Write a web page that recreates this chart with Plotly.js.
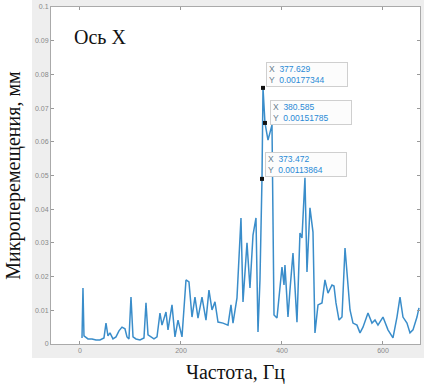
<!DOCTYPE html>
<html>
<head>
<meta charset="utf-8">
<script src="https://cdn.plot.ly/plotly-3.0.1.min.js"></script>
<style>html,body{margin:0;padding:0;background:#fff;}#chart{width:424px;height:385px;}</style>
</head>
<body>
<div id="chart"></div>
<script>
// Frequency (Hz)
var freq = [4.0, 5.9, 7.9, 15.8, 23.8, 31.7, 39.6, 47.5, 51.5, 55.4, 59.4, 65.3, 71.3, 77.2, 83.2, 89.1, 93.1, 97.0, 101.0, 105.0,
  110.9, 118.8, 126.7, 130.7, 134.7, 140.6, 146.5, 152.5, 158.4, 162.4, 170.3, 174.3, 182.2, 188.1, 194.1, 202.0, 209.9, 215.8, 221.8, 227.7,
  233.7, 241.6, 249.5, 255.4, 261.4, 267.3, 273.3, 283.2, 293.1, 299.0, 303.0, 310.9, 318.8, 322.8, 330.7, 336.6, 342.6, 348.5, 352.5, 356.4,
  360.4, 362.4, 366.3, 372.3, 380.2, 384.2, 390.1, 400.0, 404.0, 405.9, 411.9, 415.8, 421.8, 429.7, 435.6, 439.6, 445.5, 449.5, 455.4, 461.4,
  465.3, 471.3, 479.2, 485.1, 491.1, 499.0, 503.0, 506.9, 512.9, 518.8, 524.8, 534.7, 540.6, 548.5, 554.5, 560.4, 570.3, 578.2, 584.2, 590.1,
  600.0, 609.9, 619.8, 627.7, 633.7, 639.6, 647.5, 653.5, 659.4, 667.3, 671.3];
// Micro-displacement (mm)
var disp = [0.0018, 0.0166, 0.0024, 0.0015, 0.0015, 0.0012, 0.0012, 0.0018, 0.0062, 0.0024, 0.0033, 0.0015, 0.0021, 0.0039, 0.0050, 0.0045, 0.0021, 0.0015, 0.0139, 0.0021,
  0.0015, 0.0012, 0.0018, 0.0122, 0.0027, 0.0021, 0.0015, 0.0021, 0.0092, 0.0056, 0.0095, 0.0042, 0.0116, 0.0021, 0.0071, 0.0021, 0.0190, 0.0184, 0.0080, 0.0139,
  0.0077, 0.0139, 0.0071, 0.0160, 0.0101, 0.0125, 0.0065, 0.0062, 0.0056, 0.0116, 0.0062, 0.0137, 0.0374, 0.0125, 0.0300, 0.0166, 0.0323, 0.0374, 0.0036, 0.0190,
  0.0490, 0.0760, 0.0656, 0.0605, 0.0650, 0.0086, 0.0077, 0.0228, 0.0175, 0.0234, 0.0080, 0.0160, 0.0270, 0.0065, 0.0329, 0.0315, 0.0493, 0.0214, 0.0404, 0.0332,
  0.0033, 0.0116, 0.0122, 0.0190, 0.0151, 0.0175, 0.0172, 0.0122, 0.0071, 0.0080, 0.0285, 0.0101, 0.0062, 0.0056, 0.0033, 0.0050, 0.0092, 0.0062, 0.0071, 0.0056,
  0.0080, 0.0042, 0.0018, 0.0080, 0.0139, 0.0080, 0.0062, 0.0033, 0.0042, 0.0080, 0.0107];

// Data tips (index into the series, and the text they display)
var tipIndex = [61, 62, 60];
var tipTextX = ['377.629', '380.585', '373.472'];
var tipTextY = ['0.00177344', '0.00151785', '0.00113864'];

var xTicks = [0, 200, 400, 600];
var yTicks = [0, 0.01, 0.02, 0.03, 0.04, 0.05, 0.06, 0.07, 0.08, 0.09, 0.1];

var tipX = tipIndex.map(function(i){ return freq[i]; });
var tipY = tipIndex.map(function(i){ return disp[i]; });

var traces = [
  {x: freq, y: disp, type: 'scatter', mode: 'lines',
   line: {color: '#3a8dca', width: 1.5}, hoverinfo: 'skip'},
  {x: tipX, y: tipY, type: 'scatter', mode: 'markers',
   marker: {color: '#111', size: 4, symbol: 'square'}, hoverinfo: 'skip'}
];

var shifts = [[3, 26], [5, 23], [3, 27]];
var annotations = tipIndex.map(function(idx, k){
  return {x: tipX[k], y: tipY[k], xref: 'x', yref: 'y', showarrow: false,
    xanchor: 'left', yanchor: 'top', align: 'left',
    xshift: shifts[k][0], yshift: shifts[k][1],
    width: 76, height: 19, borderpad: 2,
    bgcolor: '#fcfcfc', bordercolor: '#cfcfcf', borderwidth: 1,
    font: {family: 'Liberation Sans, Arial', size: 8.5, color: '#2a8ad6'},
    text: '<span style="color:#6a7f90">X</span>  ' + tipTextX[k] + '<br><span style="color:#6a7f90">Y</span>  ' + tipTextY[k]};
});
annotations.push({xref: 'paper', yref: 'paper', x: 0.133, y: 0.91, xanchor: 'center', yanchor: 'middle',
  showarrow: false, text: 'Ось X', font: {family: 'Liberation Serif, Times New Roman', size: 20, color: '#111'}});

var layout = {
  width: 424, height: 385,
  margin: {l: 51, r: 4, t: 7, b: 41},
  paper_bgcolor: '#ffffff', plot_bgcolor: '#ffffff',
  showlegend: false,
  shapes: [
    {type: 'rect', xref: 'paper', yref: 'paper', x0: -0.0515, x1: 1.02, y0: -0.0415, y1: 1.03,
     fillcolor: '#eeeeee', line: {width: 0}, layer: 'below'},
    {type: 'rect', xref: 'paper', yref: 'paper', x0: 0, x1: 1, y0: 0, y1: 1,
     fillcolor: '#ffffff', line: {width: 0}, layer: 'below'}
  ],
  xaxis: {range: [-57.4, 673.3], tickvals: xTicks, ticktext: xTicks.map(String),
    ticks: 'inside', ticklen: 3, tickcolor: '#999', showline: true, linecolor: '#aaa', linewidth: 1,
    mirror: 'ticks', showgrid: false, zeroline: false,
    tickfont: {family: 'Liberation Sans, Arial', size: 7, color: '#888'},
    title: {text: 'Частота, Гц', standoff: 11, font: {family: 'Liberation Serif, Times New Roman', size: 20, color: '#111'}}},
  yaxis: {range: [0, 0.1], tickvals: yTicks, ticktext: yTicks.map(function(v){ return String(v); }),
    ticks: 'inside', ticklen: 3, tickcolor: '#999', showline: true, linecolor: '#aaa', linewidth: 1,
    mirror: 'ticks', showgrid: false, zeroline: false,
    tickfont: {family: 'Liberation Sans, Arial', size: 7, color: '#888'},
    title: {text: 'Микроперемещения, мм', standoff: 8, font: {family: 'Liberation Serif, Times New Roman', size: 20, color: '#111'}}},
  annotations: annotations
};

Plotly.newPlot('chart', traces, layout, {displayModeBar: false, staticPlot: true});
</script>
</body>
</html>
